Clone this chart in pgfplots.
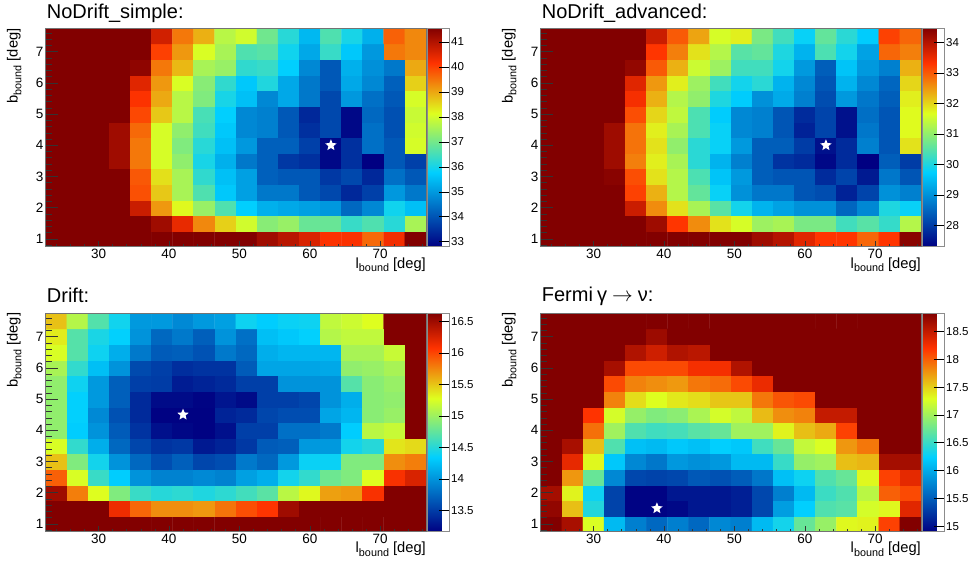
\documentclass[border=0pt]{standalone}
\usepackage{fontspec}
\setmainfont{Liberation Sans}
\usepackage{pgfplots}
\pgfplotsset{compat=1.18}

\pgfdeclareplotmark{fstar}{%
  \pgfpathmoveto{\pgfpointpolar{90}{\pgfplotmarksize}}%
  \pgfpathlineto{\pgfpointpolar{126}{0.45\pgfplotmarksize}}%
  \pgfpathlineto{\pgfpointpolar{162}{\pgfplotmarksize}}%
  \pgfpathlineto{\pgfpointpolar{198}{0.45\pgfplotmarksize}}%
  \pgfpathlineto{\pgfpointpolar{234}{\pgfplotmarksize}}%
  \pgfpathlineto{\pgfpointpolar{270}{0.45\pgfplotmarksize}}%
  \pgfpathlineto{\pgfpointpolar{306}{\pgfplotmarksize}}%
  \pgfpathlineto{\pgfpointpolar{342}{0.45\pgfplotmarksize}}%
  \pgfpathlineto{\pgfpointpolar{18}{\pgfplotmarksize}}%
  \pgfpathlineto{\pgfpointpolar{54}{0.45\pgfplotmarksize}}%
  \pgfpathclose
  \pgfusepathqfill}

\newcommand{\blab}{b\raisebox{-3.7pt}{\fontsize{10.8}{11}\selectfont bound} [deg]}
\newcommand{\llab}{l\raisebox{-3.7pt}{\fontsize{10.8}{11}\selectfont bound} [deg]}

\pgfplotsset{
  colormap={rootrb}{rgb255(0cm)=(0,0,130) rgb255(3.4cm)=(0,207,255) rgb255(6.1cm)=(222,255,31) rgb255(8.4cm)=(255,51,0) rgb255(10cm)=(130,0,0)},
  /pgf/number format/assume math mode=true,
  hm/.style={
    scale only axis, width=380.3pt, height=218.5pt,
    xmin=22.5, xmax=76.5, ymin=0.75, ymax=7.75,
    enlargelimits=false, axis on top,
    xtick={30,40,50,60,70}, ytick={1,2,...,7},
    minor xtick={24,26,...,76}, minor ytick={0.8,1.0,...,7.6},
    tick align=inside, xtick pos=left, ytick pos=left,
    major x tick style={/pgfplots/major tick length=6pt},
    minor x tick style={/pgfplots/minor tick length=3pt},
    major y tick style={/pgfplots/major tick length=12pt},
    minor y tick style={/pgfplots/minor tick length=6pt},
    tick style={black!80, line width=0.5pt},
    axis line style={black!55, line width=0.5pt},
    tick label style={font=\fontsize{13.5}{14}\selectfont},
    xticklabel style={inner sep=2pt},
    yticklabel style={inner sep=2pt},
    colormap name=rootrb,
    colorbar right,
    colorbar shift/.style={xshift=1.7pt},
    colorbar style={at={(parent axis.north east)}, anchor=north west,
      width=21.8pt, ytick pos=right, yticklabel pos=right,
      tick align=inside, major tick length=11pt,
      tick style={black, line width=0.5pt},
      axis line style={black!45, line width=0.5pt},
      yticklabel style={font=\fontsize{11.5}{12}\selectfont, inner sep=1.5pt},
      minor ytick={}},
  },
}

\begin{document}
\begin{tikzpicture}
\useasboundingbox (0,0) rectangle (977pt,563pt);

% ---------------- Panel 1: NoDrift_simple ----------------
\begin{axis}[hm, at={(45.7pt,316.3pt)}, anchor=south west,
  point meta min=32.8, point meta max=41.55,
  colorbar style={ytick={33,34,...,41}}]
\addplot[matrix plot*, mesh/cols=18, point meta=explicit] table[row sep=\\, meta=c] {
x y c\\
24 1 41.55\\27 1 41.55\\30 1 41.55\\33 1 41.55\\36 1 41.55\\39 1 41.55\\42 1 41.55\\45 1 41.55\\48 1 41.55\\51 1 41.55\\54 1 41.22\\57 1 40.95\\60 1 40.59\\63 1 40.18\\66 1 40.2\\69 1 39.62\\72 1 40.3\\75 1 41.55\\
24 1.5 41.55\\27 1.5 41.55\\30 1.5 41.55\\33 1.5 41.55\\36 1.5 41.55\\39 1.5 41.22\\42 1.5 40.41\\45 1.5 39.31\\48 1.5 38.6\\51 1.5 37.99\\54 1.5 37.22\\57 1.5 37.39\\60 1.5 36.88\\63 1.5 36.88\\66 1.5 36.37\\69 1.5 36.62\\72 1.5 36.2\\75 1.5 37.56\\
24 2 41.55\\27 2 41.55\\30 2 41.55\\33 2 41.55\\36 2 40.76\\39 2 39.15\\42 2 38.2\\45 2 37.39\\48 2 36.62\\51 2 35.79\\54 2 35.33\\57 2 35.22\\60 2 35.1\\63 2 34.99\\66 2 34.29\\69 2 34.75\\72 2 35.95\\75 2 35.56\\
24 2.5 41.55\\27 2.5 41.55\\30 2.5 41.55\\33 2.5 41.55\\36 2.5 39.86\\39 2.5 38.68\\42 2.5 37.56\\45 2.5 36.62\\48 2.5 35.67\\51 2.5 35.1\\54 2.5 34.52\\57 2.5 34.52\\60 2.5 34.06\\63 2.5 33.83\\66 2.5 33.38\\69 2.5 33.72\\72 2.5 34.99\\75 2.5 34.52\\
24 3 41.55\\27 3 41.55\\30 3 41.55\\33 3 41.55\\36 3 39.78\\39 3 38.44\\42 3 37.56\\45 3 36.29\\48 3 35.56\\51 3 35.1\\54 3 34.18\\57 3 34.06\\60 3 34.06\\63 3 33.6\\66 3 33.83\\69 3 33.38\\72 3 34.41\\75 3 34.06\\
24 3.5 41.55\\27 3.5 41.55\\30 3.5 41.55\\33 3.5 41.22\\36 3.5 39.47\\39 3.5 38.05\\42 3.5 37.31\\45 3.5 36.03\\48 3.5 35.33\\51 3.5 34.52\\54 3.5 34.18\\57 3.5 33.6\\60 3.5 33.49\\63 3.5 32.91\\66 3.5 33.49\\69 3.5 32.8\\72 3.5 34.06\\75 3.5 33.72\\
24 4 41.55\\27 4 41.55\\30 4 41.55\\33 4 41.22\\36 4 39.47\\39 4 38.05\\42 4 37.14\\45 4 36.2\\48 4 35.56\\51 4 34.99\\54 4 34.18\\57 4 34.18\\60 4 33.72\\63 4 32.91\\66 4 33.49\\69 4 34.41\\72 4 34.06\\75 4 38.05\\
24 4.5 41.55\\27 4.5 41.55\\30 4.5 41.55\\33 4.5 41.22\\36 4.5 39.62\\39 4.5 38.05\\42 4.5 37.31\\45 4.5 36.46\\48 4.5 35.67\\51 4.5 34.75\\54 4.5 34.64\\57 4.5 34.06\\60 4.5 33.49\\63 4.5 33.83\\66 4.5 32.91\\69 4.5 34.41\\72 4.5 33.95\\75 4.5 37.99\\
24 5 41.55\\27 5 41.55\\30 5 41.55\\33 5 41.55\\36 5 39.94\\39 5 38.68\\42 5 37.73\\45 5 36.54\\48 5 35.79\\51 5 34.75\\54 5 34.64\\57 5 34.06\\60 5 33.38\\63 5 33.83\\66 5 32.91\\69 5 34.29\\72 5 33.95\\75 5 37.9\\
24 5.5 41.55\\27 5.5 41.55\\30 5.5 41.55\\33 5.5 41.55\\36 5.5 40.18\\39 5.5 38.99\\42 5.5 37.73\\45 5.5 37.14\\48 5.5 36.03\\51 5.5 35.56\\54 5.5 34.75\\57 5.5 35.22\\60 5.5 34.52\\63 5.5 33.83\\66 5.5 34.99\\69 5.5 34.41\\72 5.5 34.06\\75 5.5 38.05\\
24 6 41.55\\27 6 41.55\\30 6 41.55\\33 6 41.55\\36 6 40.5\\39 6 39.15\\42 6 38.08\\45 6 37.22\\48 6 36.29\\51 6 35.67\\54 6 36.12\\57 6 35.22\\60 6 34.52\\63 6 34.06\\66 6 35.22\\69 6 34.75\\72 6 34.18\\75 6 38.6\\
24 6.5 41.55\\27 6.5 41.55\\30 6.5 41.55\\33 6.5 41.55\\36 6.5 41.4\\39 6.5 39.47\\42 6.5 38.84\\45 6.5 37.56\\48 6.5 37.39\\51 6.5 36.29\\54 6.5 36.37\\57 6.5 35.79\\60 6.5 34.75\\63 6.5 34.06\\66 6.5 35.33\\69 6.5 34.87\\72 6.5 34.52\\75 6.5 38.99\\
24 7 41.55\\27 7 41.55\\30 7 41.55\\33 7 41.55\\36 7 41.55\\39 7 40.02\\42 7 39.15\\45 7 38.08\\48 7 37.56\\51 7 36.62\\54 7 36.71\\57 7 35.95\\60 7 35.22\\63 7 36.37\\66 7 35.67\\69 7 34.99\\72 7 39.47\\75 7 39.31\\
24 7.5 41.55\\27 7.5 41.55\\30 7.5 41.55\\33 7.5 41.55\\36 7.5 41.55\\39 7.5 40.68\\42 7.5 39.47\\45 7.5 38.92\\48 7.5 37.73\\51 7.5 37.99\\54 7.5 36.97\\57 7.5 36.2\\60 7.5 35.44\\63 7.5 36.62\\66 7.5 36.03\\69 7.5 35.33\\72 7.5 39.7\\75 7.5 39.31\\
};
\addplot[only marks, mark=fstar, mark size=6pt, mark options={fill=white, draw=white}] coordinates {(63,4)};
\end{axis}

% ---------------- Panel 2: NoDrift_advanced ----------------
\begin{axis}[hm, at={(540.7pt,316.3pt)}, anchor=south west,
  point meta min=27.3, point meta max=34.46,
  colorbar style={ytick={28,29,...,34}}]
\addplot[matrix plot*, mesh/cols=18, point meta=explicit] table[row sep=\\, meta=c] {
x y c\\
24 1 34.46\\27 1 34.46\\30 1 34.46\\33 1 34.46\\36 1 34.46\\39 1 34.46\\42 1 34.46\\45 1 34.46\\48 1 34.46\\51 1 34.46\\54 1 34.2\\57 1 34.0\\60 1 33.6\\63 1 33.3\\66 1 33.3\\69 1 32.9\\72 1 33.3\\75 1 34.4\\
24 1.5 34.46\\27 1.5 34.46\\30 1.5 34.46\\33 1.5 34.46\\36 1.5 34.46\\39 1.5 34.2\\42 1.5 33.3\\45 1.5 32.6\\48 1.5 31.9\\51 1.5 31.6\\54 1.5 31.1\\57 1.5 31.2\\60 1.5 30.8\\63 1.5 30.8\\66 1.5 30.3\\69 1.5 30.5\\72 1.5 30.2\\75 1.5 31.3\\
24 2 34.46\\27 2 34.46\\30 2 34.46\\33 2 34.46\\36 2 33.8\\39 2 32.6\\42 2 31.9\\45 2 31.2\\48 2 30.5\\51 2 29.9\\54 2 29.4\\57 2 29.2\\60 2 29.0\\63 2 29.0\\66 2 28.5\\69 2 28.9\\72 2 30.0\\75 2 29.8\\
24 2.5 34.46\\27 2.5 34.46\\30 2.5 34.46\\33 2.5 34.46\\36 2.5 33.2\\39 2.5 32.3\\42 2.5 31.3\\45 2.5 30.6\\48 2.5 29.8\\51 2.5 29.0\\54 2.5 28.7\\57 2.5 28.7\\60 2.5 28.3\\63 2.5 28.2\\66 2.5 27.7\\69 2.5 28.1\\72 2.5 29.0\\75 2.5 28.8\\
24 3 34.46\\27 3 34.46\\30 3 34.46\\33 3 34.4\\36 3 33.1\\39 3 31.9\\42 3 31.3\\45 3 30.4\\48 3 29.6\\51 3 29.1\\54 3 28.4\\57 3 28.3\\60 3 28.3\\63 3 27.8\\66 3 28.1\\69 3 27.6\\72 3 28.7\\75 3 28.3\\
24 3.5 34.46\\27 3.5 34.46\\30 3.5 34.46\\33 3.5 34.2\\36 3.5 32.7\\39 3.5 31.8\\42 3.5 31.2\\45 3.5 30.1\\48 3.5 29.4\\51 3.5 28.8\\54 3.5 28.4\\57 3.5 27.9\\60 3.5 27.8\\63 3.5 27.4\\66 3.5 27.8\\69 3.5 27.3\\72 3.5 28.4\\75 3.5 28.0\\
24 4 34.46\\27 4 34.46\\30 4 34.46\\33 4 34.2\\36 4 32.8\\39 4 31.9\\42 4 31.0\\45 4 30.1\\48 4 29.8\\51 4 29.1\\54 4 28.4\\57 4 28.4\\60 4 28.0\\63 4 27.5\\66 4 27.8\\69 4 28.8\\72 4 28.3\\75 4 31.9\\
24 4.5 34.46\\27 4.5 34.46\\30 4.5 34.46\\33 4.5 34.2\\36 4.5 32.8\\39 4.5 31.8\\42 4.5 31.2\\45 4.5 30.4\\48 4.5 29.8\\51 4.5 28.9\\54 4.5 28.8\\57 4.5 28.3\\60 4.5 27.7\\63 4.5 28.1\\66 4.5 27.5\\69 4.5 28.7\\72 4.5 28.3\\75 4.5 31.7\\
24 5 34.46\\27 5 34.46\\30 5 34.46\\33 5 34.46\\36 5 33.1\\39 5 32.0\\42 5 31.4\\45 5 30.4\\48 5 29.7\\51 5 28.9\\54 5 28.8\\57 5 28.3\\60 5 27.8\\63 5 28.1\\66 5 27.5\\69 5 28.6\\72 5 28.3\\75 5 31.7\\
24 5.5 34.46\\27 5.5 34.46\\30 5.5 34.46\\33 5.5 34.46\\36 5.5 33.4\\39 5.5 32.3\\42 5.5 31.3\\45 5.5 31.0\\48 5.5 30.0\\51 5.5 29.7\\54 5.5 29.0\\57 5.5 29.3\\60 5.5 28.8\\63 5.5 28.2\\66 5.5 29.1\\69 5.5 28.7\\72 5.5 28.4\\75 5.5 31.8\\
24 6 34.46\\27 6 34.46\\30 6 34.46\\33 6 34.46\\36 6 33.6\\39 6 32.5\\42 6 31.8\\45 6 31.1\\48 6 30.3\\51 6 29.9\\54 6 30.1\\57 6 29.4\\60 6 28.9\\63 6 28.3\\66 6 29.4\\69 6 28.9\\72 6 28.5\\75 6 32.0\\
24 6.5 34.46\\27 6.5 34.46\\30 6.5 34.46\\33 6.5 34.46\\36 6.5 34.3\\39 6.5 33.0\\42 6.5 32.3\\45 6.5 31.5\\48 6.5 31.1\\51 6.5 30.3\\54 6.5 30.3\\57 6.5 29.9\\60 6.5 29.1\\63 6.5 28.4\\66 6.5 29.6\\69 6.5 29.1\\72 6.5 28.8\\75 6.5 32.3\\
24 7 34.46\\27 7 34.46\\30 7 34.46\\33 7 34.46\\36 7 34.46\\39 7 33.3\\42 7 32.7\\45 7 31.9\\48 7 31.3\\51 7 30.5\\54 7 30.6\\57 7 30.0\\60 7 29.4\\63 7 30.4\\66 7 29.9\\69 7 29.2\\72 7 32.9\\75 7 32.7\\
24 7.5 34.46\\27 7.5 34.46\\30 7.5 34.46\\33 7.5 34.46\\36 7.5 34.46\\39 7.5 33.8\\42 7.5 33.0\\45 7.5 32.4\\48 7.5 31.6\\51 7.5 31.8\\54 7.5 30.8\\57 7.5 30.3\\60 7.5 29.8\\63 7.5 30.6\\66 7.5 30.1\\69 7.5 29.7\\72 7.5 33.2\\75 7.5 32.9\\
};
\addplot[only marks, mark=fstar, mark size=6pt, mark options={fill=white, draw=white}] coordinates {(63,4)};
\end{axis}

% ---------------- Panel 3: Drift ----------------
\begin{axis}[hm, at={(45.7pt,31.3pt)}, anchor=south west,
  point meta min=13.16, point meta max=16.63,
  colorbar style={ytick={13.5,14,...,16.5}}]
\addplot[matrix plot*, mesh/cols=18, point meta=explicit] table[row sep=\\, meta=c] {
x y c\\
24 1 16.63\\27 1 16.63\\30 1 16.63\\33 1 16.63\\36 1 16.63\\39 1 16.63\\42 1 16.63\\45 1 16.63\\48 1 16.63\\51 1 16.63\\54 1 16.63\\57 1 16.63\\60 1 16.63\\63 1 16.63\\66 1 16.63\\69 1 16.63\\72 1 16.63\\75 1 16.63\\
24 1.5 16.63\\27 1.5 16.63\\30 1.5 16.63\\33 1.5 16.15\\36 1.5 15.87\\39 1.5 15.72\\42 1.5 15.72\\45 1.5 15.68\\48 1.5 15.82\\51 1.5 15.97\\54 1.5 16.07\\57 1.5 16.5\\60 1.5 16.63\\63 1.5 16.63\\66 1.5 16.63\\69 1.5 16.63\\72 1.5 16.63\\75 1.5 16.63\\
24 2 16.5\\27 2 15.78\\30 2 15.28\\33 2 14.88\\36 2 14.58\\39 2 14.5\\42 2 14.53\\45 2 14.47\\48 2 14.53\\51 2 14.62\\54 2 14.72\\57 2 15.12\\60 2 15.3\\63 2 15.65\\66 2 15.68\\69 2 16.1\\72 2 16.63\\75 2 16.63\\
24 2.5 15.9\\27 2.5 15.25\\30 2.5 14.58\\33 2.5 14.33\\36 2.5 14.0\\39 2.5 13.9\\42 2.5 13.9\\45 2.5 13.94\\48 2.5 13.9\\51 2.5 14.07\\54 2.5 14.15\\57 2.5 14.42\\60 2.5 14.55\\63 2.5 14.8\\66 2.5 14.88\\69 2.5 15.28\\72 2.5 16.1\\75 2.5 16.25\\
24 3 15.52\\27 3 14.88\\30 3 14.42\\33 3 14.0\\36 3 13.75\\39 3 13.6\\42 3 13.7\\45 3 13.56\\48 3 13.6\\51 3 13.85\\54 3 13.75\\57 3 14.03\\60 3 14.38\\63 3 14.38\\66 3 14.88\\69 3 14.88\\72 3 15.72\\75 3 15.78\\
24 3.5 15.25\\27 3.5 14.55\\30 3.5 14.15\\33 3.5 13.75\\36 3.5 13.56\\39 3.5 13.45\\42 3.5 13.48\\45 3.5 13.3\\48 3.5 13.36\\51 3.5 13.48\\54 3.5 13.68\\57 3.5 13.7\\60 3.5 14.03\\63 3.5 14.03\\66 3.5 14.42\\69 3.5 14.5\\72 3.5 15.38\\75 3.5 15.42\\
24 4 14.95\\27 4 14.33\\30 4 14.0\\33 4 13.68\\36 4 13.45\\39 4 13.25\\42 4 13.2\\45 4 13.17\\48 4 13.25\\51 4 13.52\\54 4 13.52\\57 4 13.8\\60 4 13.8\\63 4 13.85\\66 4 14.33\\69 4 15.12\\72 4 15.18\\75 4 16.63\\
24 4.5 14.95\\27 4.5 14.35\\30 4.5 13.94\\33 4.5 13.62\\36 4.5 13.4\\39 4.5 13.17\\42 4.5 13.17\\45 4.5 13.17\\48 4.5 13.36\\51 4.5 13.4\\54 4.5 13.56\\57 4.5 13.6\\60 4.5 13.6\\63 4.5 14.1\\66 4.5 14.2\\69 4.5 14.92\\72 4.5 14.98\\75 4.5 16.63\\
24 5 14.95\\27 5 14.35\\30 5 14.03\\33 5 13.7\\36 5 13.4\\39 5 13.22\\42 5 13.22\\45 5 13.18\\48 5 13.28\\51 5 13.22\\54 5 13.52\\57 5 13.52\\60 5 13.56\\63 5 14.0\\66 5 14.15\\69 5 14.92\\72 5 14.95\\75 5 16.63\\
24 5.5 14.95\\27 5.5 14.4\\30 5.5 14.03\\33 5.5 13.7\\36 5.5 13.52\\39 5.5 13.5\\42 5.5 13.32\\45 5.5 13.36\\48 5.5 13.4\\51 5.5 13.52\\54 5.5 13.52\\57 5.5 14.0\\60 5.5 14.0\\63 5.5 14.0\\66 5.5 14.7\\69 5.5 14.92\\72 5.5 14.98\\75 5.5 16.63\\
24 6 15.05\\27 6 14.55\\30 6 14.25\\33 6 14.0\\36 6 13.58\\39 6 13.52\\42 6 13.42\\45 6 13.45\\48 6 13.45\\51 6 13.68\\54 6 14.1\\57 6 14.1\\60 6 14.1\\63 6 14.12\\66 6 14.95\\69 6 14.98\\72 6 15.05\\75 6 16.63\\
24 6.5 15.25\\27 6.5 14.7\\30 6.5 14.4\\33 6.5 14.15\\36 6.5 13.85\\39 6.5 13.68\\42 6.5 13.7\\45 6.5 13.63\\48 6.5 13.85\\51 6.5 13.75\\54 6.5 14.15\\57 6.5 14.2\\60 6.5 14.2\\63 6.5 14.2\\66 6.5 15.05\\69 6.5 15.05\\72 6.5 15.18\\75 6.5 16.63\\
24 7 15.35\\27 7 14.7\\30 7 14.45\\33 7 14.35\\36 7 14.0\\39 7 13.75\\42 7 13.85\\45 7 13.7\\48 7 14.0\\51 7 13.8\\54 7 14.25\\57 7 14.3\\60 7 14.35\\63 7 15.1\\66 7 15.15\\69 7 15.15\\72 7 16.63\\75 7 16.63\\
24 7.5 15.52\\27 7.5 15.1\\30 7.5 14.69\\33 7.5 14.41\\36 7.5 14.03\\39 7.5 14.03\\42 7.5 13.94\\45 7.5 14.03\\48 7.5 14.07\\51 7.5 14.4\\54 7.5 14.33\\57 7.5 14.38\\60 7.5 14.4\\63 7.5 15.15\\66 7.5 15.2\\69 7.5 15.28\\72 7.5 16.63\\75 7.5 16.63\\
};
\addplot[only marks, mark=fstar, mark size=6pt, mark options={fill=white, draw=white}] coordinates {(42,4.5)};
\end{axis}

% ---------------- Panel 4: Fermi ----------------
\begin{axis}[hm, at={(540.7pt,31.3pt)}, anchor=south west,
  point meta min=14.9, point meta max=18.83,
  colorbar style={ytick={15,15.5,...,18.5}}]
\addplot[matrix plot*, mesh/cols=18, point meta=explicit] table[row sep=\\, meta=c] {
x y c\\
24 1 18.83\\27 1 18.64\\30 1 17.28\\33 1 16.1\\36 1 15.72\\39 1 15.57\\42 1 15.72\\45 1 15.57\\48 1 15.78\\51 1 15.72\\54 1 16.1\\57 1 16.33\\60 1 16.73\\63 1 16.96\\66 1 17.33\\69 1 17.35\\72 1 18.14\\75 1 18.83\\
24 1.5 18.75\\27 1.5 17.58\\30 1.5 16.4\\33 1.5 15.33\\36 1.5 14.92\\39 1.5 14.92\\42 1.5 14.95\\45 1.5 15.05\\48 1.5 15.05\\51 1.5 15.1\\54 1.5 15.36\\57 1.5 15.92\\60 1.5 16.24\\63 1.5 16.62\\66 1.5 16.66\\69 1.5 17.25\\72 1.5 17.33\\75 1.5 18.35\\
24 2 18.66\\27 2 17.35\\30 2 16.3\\33 2 15.33\\36 2 14.92\\39 2 14.92\\42 2 15.05\\45 2 15.05\\48 2 15.05\\51 2 15.1\\54 2 15.36\\57 2 15.72\\60 2 16.1\\63 2 16.52\\66 2 16.62\\69 2 17.12\\72 2 18.0\\75 2 18.1\\
24 2.5 18.83\\27 2.5 17.76\\30 2.5 16.73\\33 2.5 15.78\\36 2.5 15.36\\39 2.5 15.33\\42 2.5 15.36\\45 2.5 15.47\\48 2.5 15.42\\51 2.5 15.5\\54 2.5 15.67\\57 2.5 16.14\\60 2.5 16.3\\63 2.5 16.62\\66 2.5 16.73\\69 2.5 17.33\\72 2.5 18.14\\75 2.5 18.33\\
24 3 18.83\\27 3 18.32\\30 3 17.33\\33 3 16.19\\36 3 15.78\\39 3 15.67\\42 3 15.88\\45 3 15.83\\48 3 15.88\\51 3 16.1\\54 3 16.1\\57 3 16.5\\60 3 16.95\\63 3 17.0\\66 3 17.58\\69 3 17.62\\72 3 18.66\\75 3 18.66\\
24 3.5 18.83\\27 3.5 18.64\\30 3.5 17.58\\33 3.5 16.62\\36 3.5 16.14\\39 3.5 16.1\\42 3.5 16.19\\45 3.5 16.14\\48 3.5 16.24\\51 3.5 16.19\\54 3.5 16.54\\57 3.5 16.73\\60 3.5 17.17\\63 3.5 17.28\\66 3.5 17.76\\69 3.5 17.9\\72 3.5 18.83\\75 3.5 18.83\\
24 4 18.83\\27 4 18.83\\30 4 17.93\\33 4 17.0\\36 4 16.62\\39 4 16.54\\42 4 16.57\\45 4 16.66\\48 4 16.73\\51 4 17.0\\54 4 17.0\\57 4 17.35\\60 4 17.58\\63 4 17.68\\66 4 18.14\\69 4 18.83\\72 4 18.83\\75 4 18.83\\
24 4.5 18.83\\27 4.5 18.83\\30 4.5 18.2\\33 4.5 17.25\\36 4.5 16.95\\39 4.5 16.85\\42 4.5 16.9\\45 4.5 17.05\\48 4.5 17.25\\51 4.5 17.15\\54 4.5 17.6\\57 4.5 17.8\\60 4.5 17.85\\63 4.5 18.5\\66 4.5 18.5\\69 4.5 18.83\\72 4.5 18.83\\75 4.5 18.83\\
24 5 18.83\\27 5 18.83\\30 5 18.83\\33 5 17.85\\36 5 17.45\\39 5 17.3\\42 5 17.4\\45 5 17.45\\48 5 17.55\\51 5 17.55\\54 5 17.9\\57 5 18.05\\60 5 18.1\\63 5 18.83\\66 5 18.83\\69 5 18.83\\72 5 18.83\\75 5 18.83\\
24 5.5 18.83\\27 5.5 18.83\\30 5.5 18.83\\33 5.5 18.1\\36 5.5 17.85\\39 5.5 17.8\\42 5.5 17.75\\45 5.5 17.9\\48 5.5 17.95\\51 5.5 18.1\\54 5.5 18.3\\57 5.5 18.83\\60 5.5 18.83\\63 5.5 18.83\\66 5.5 18.83\\69 5.5 18.83\\72 5.5 18.83\\75 5.5 18.83\\
24 6 18.83\\27 6 18.83\\30 6 18.83\\33 6 18.65\\36 6 18.1\\39 6 18.1\\42 6 18.1\\45 6 18.25\\48 6 18.25\\51 6 18.6\\54 6 18.83\\57 6 18.83\\60 6 18.83\\63 6 18.83\\66 6 18.83\\69 6 18.83\\72 6 18.83\\75 6 18.83\\
24 6.5 18.83\\27 6.5 18.83\\30 6.5 18.83\\33 6.5 18.83\\36 6.5 18.6\\39 6.5 18.45\\42 6.5 18.6\\45 6.5 18.55\\48 6.5 18.83\\51 6.5 18.83\\54 6.5 18.83\\57 6.5 18.83\\60 6.5 18.83\\63 6.5 18.83\\66 6.5 18.83\\69 6.5 18.83\\72 6.5 18.83\\75 6.5 18.83\\
24 7 18.83\\27 7 18.83\\30 7 18.83\\33 7 18.83\\36 7 18.83\\39 7 18.7\\42 7 18.83\\45 7 18.83\\48 7 18.83\\51 7 18.83\\54 7 18.83\\57 7 18.83\\60 7 18.83\\63 7 18.83\\66 7 18.83\\69 7 18.83\\72 7 18.83\\75 7 18.83\\
24 7.5 18.83\\27 7.5 18.83\\30 7.5 18.83\\33 7.5 18.83\\36 7.5 18.83\\39 7.5 18.83\\42 7.5 18.83\\45 7.5 18.83\\48 7.5 18.83\\51 7.5 18.83\\54 7.5 18.83\\57 7.5 18.83\\60 7.5 18.83\\63 7.5 18.83\\66 7.5 18.83\\69 7.5 18.83\\72 7.5 18.83\\75 7.5 18.83\\
};
\addplot[only marks, mark=fstar, mark size=6pt, mark options={fill=white, draw=white}] coordinates {(39,1.5)};
\end{axis}

% ---------------- Titles and axis labels ----------------
\node[anchor=base west, inner sep=0, font=\fontsize{20}{24}\selectfont] at (46.7pt,544.7pt) {NoDrift\_simple:};
\node[anchor=base west, inner sep=0, font=\fontsize{20}{24}\selectfont] at (541.7pt,544.7pt) {NoDrift\_advanced:};
\node[anchor=base west, inner sep=0, font=\fontsize{20}{24}\selectfont] at (46.7pt,260pt) {Drift:};
\node[anchor=base west, inner sep=0, font=\fontsize{20}{24}\selectfont] at (541.7pt,261.3pt) {Fermi\hspace{4pt}γ\hspace{5pt}$\rightarrow$\hspace{5pt}ν:};

\node[rotate=90, anchor=base east, inner sep=0, font=\fontsize{14.7}{15}\selectfont] at (17.7pt,534.7pt) {\blab};
\node[rotate=90, anchor=base east, inner sep=0, font=\fontsize{14.7}{15}\selectfont] at (512.7pt,534.7pt) {\blab};
\node[rotate=90, anchor=base east, inner sep=0, font=\fontsize{14.7}{15}\selectfont] at (17.7pt,250.3pt) {\blab};
\node[rotate=90, anchor=base east, inner sep=0, font=\fontsize{14.7}{15}\selectfont] at (512.7pt,250.3pt) {\blab};

\node[anchor=base east, inner sep=0, font=\fontsize{14.7}{15}\selectfont] at (426pt,294.7pt) {\llab};
\node[anchor=base east, inner sep=0, font=\fontsize{14.7}{15}\selectfont] at (921pt,294.7pt) {\llab};
\node[anchor=base east, inner sep=0, font=\fontsize{14.7}{15}\selectfont] at (426pt,10.3pt) {\llab};
\node[anchor=base east, inner sep=0, font=\fontsize{14.7}{15}\selectfont] at (921pt,10.3pt) {\llab};
\end{tikzpicture}
\end{document}
